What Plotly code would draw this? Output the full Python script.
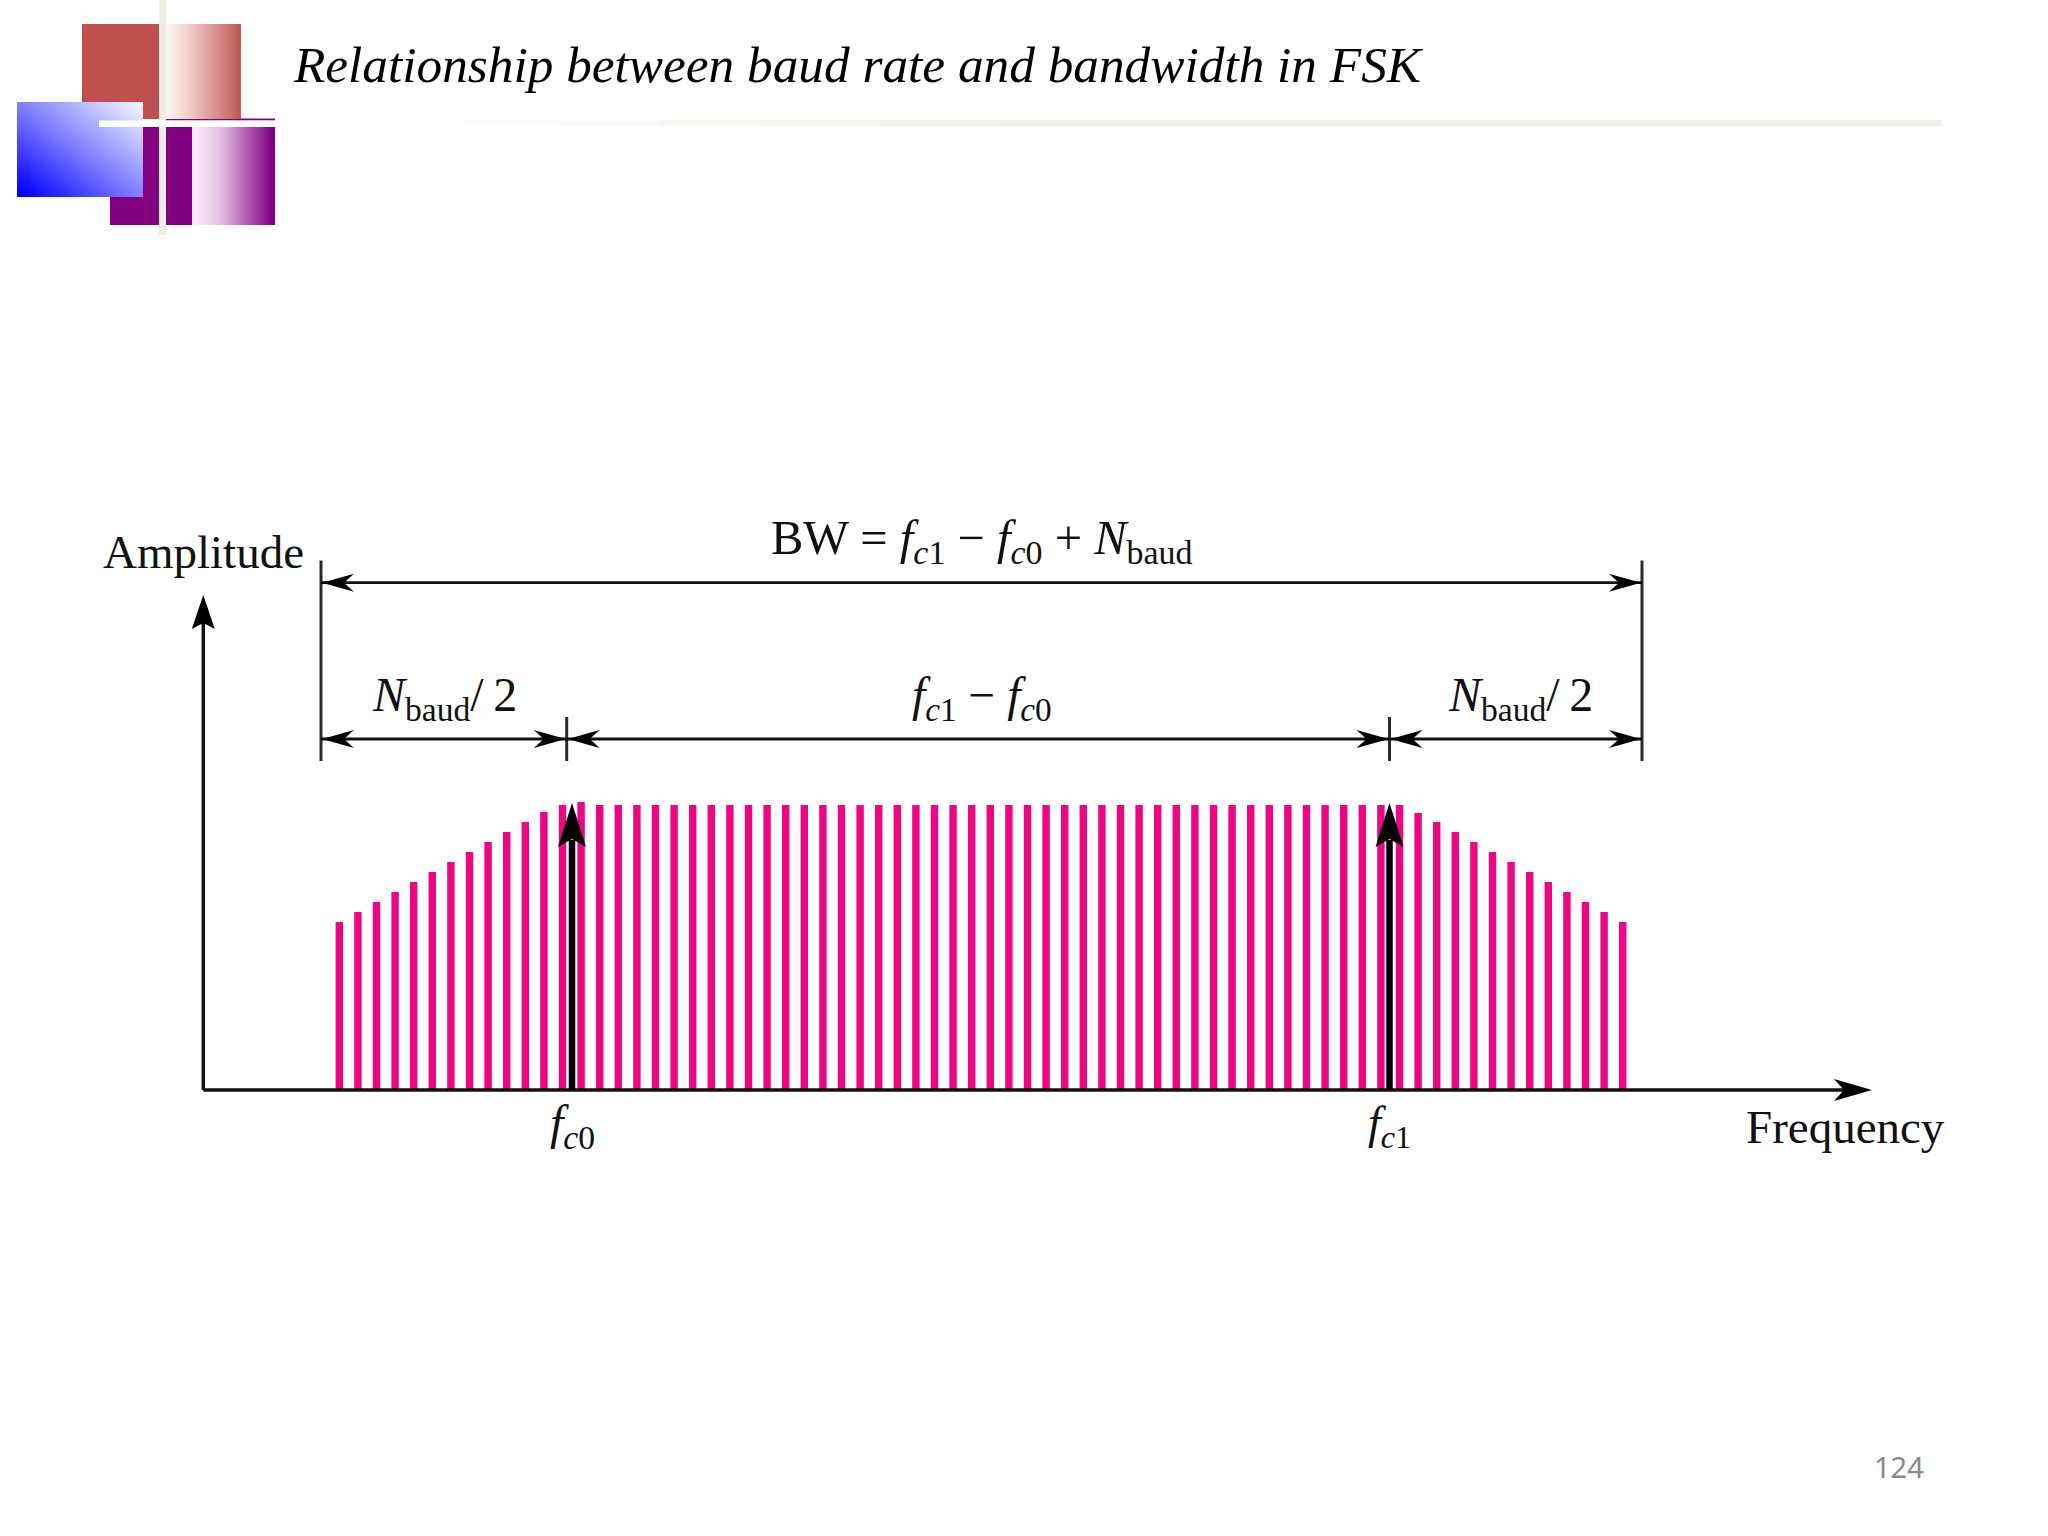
import plotly.graph_objects as go

# ---- data ----
frequency_bins = list(range(70))
amplitude = [168, 178, 188, 198, 208, 218, 228, 238, 248, 258, 268, 278,
             285, 288, 285, 285, 285, 285, 285, 285, 285, 285, 285, 285, 285, 285, 285, 285, 285, 285,
             285, 285, 285, 285, 285, 285, 285, 285, 285, 285, 285, 285, 285, 285, 285, 285, 285, 285,
             285, 285, 285, 285, 285, 285, 285, 285, 285, 285,
             277, 268, 258, 248, 238, 228, 218, 208, 198, 188, 178, 168]
title_text = "Relationship between baud rate and bandwidth in FSK"
y_label = "Amplitude"
x_label = "Frequency"
bw_label = "BW = <i>f</i><sub><i>c</i>1</sub> − <i>f</i><sub><i>c</i>0</sub> + <i>N</i><sub>baud</sub>"
diff_label = "<i>f</i><sub><i>c</i>1</sub> − <i>f</i><sub><i>c</i>0</sub>"
half_label = "<i>N</i><sub>baud</sub>/\u20092"
fc0_label = "<i>f</i><sub><i>c</i>0</sub>"
fc1_label = "<i>f</i><sub><i>c</i>1</sub>"
page_label = "124"

BAR = "#ec0680"
INK = "#111111"
W, H = 2048, 1536
X0, PITCH = 339.3, 18.6
BASE = 1090

fig = go.Figure()
fig.add_trace(go.Bar(x=frequency_bins, y=amplitude, marker=dict(color=BAR, line_width=0),
                     width=0.40, hoverinfo="skip", showlegend=False))

def gradient_rect(x0, y0, x1, y1, colorscale, diagonal=False, n=14):
    xs = [x0 + (k + 0.5) * (x1 - x0) / n for k in range(n)]
    ys = [y0 + (k + 0.5) * (y1 - y0) / n for k in range(n)]
    if diagonal:   # lightest at top right, deepest at bottom left
        z = [[(c + (n - 1 - r)) / (2 * n - 2) for c in range(n)] for r in range(n)]
    else:
        z = [[c / (n - 1) for c in range(n)] for r in range(n)]
    fig.add_trace(go.Heatmap(x=xs, y=ys, z=z, zmin=0, zmax=1, zsmooth="best", colorscale=colorscale,
                             showscale=False, hoverinfo="skip", xaxis="x2", yaxis="y2"))

# logo gradients
gradient_rect(166, 24, 241, 119, [[0, "#fdf3f1"], [0.35, "#eec4c0"], [1, "#c05c56"]])
gradient_rect(192, 127, 275, 225, [[0, "#fdebfd"], [0.35, "#e0b8e0"], [1, "#800080"]])
gradient_rect(17, 102, 143, 197, [[0, "#0000ff"], [0.5, "#8080ff"], [1, "#f2f2ff"]], diagonal=True)

shapes = []
def rect(x0, y0, x1, y1, color, layer="below"):
    shapes.append(dict(type="rect", xref="x2", yref="y2", x0=x0, y0=y0, x1=x1, y1=y1,
                       fillcolor=color, line_width=0, layer=layer))
def line(x0, y0, x1, y1, width, color=INK):
    shapes.append(dict(type="line", xref="x2", yref="y2", x0=x0, y0=y0, x1=x1, y1=y1,
                       line=dict(color=color, width=width), layer="above"))
def head(tx, ty, dx, dy, length, half, notch):
    # dx, dy: unit direction of travel, the tip is at (tx, ty)
    bx, by = tx - dx * length, ty - dy * length
    nx, ny = tx - dx * (length - notch), ty - dy * (length - notch)
    px, py = -dy * half, dx * half
    path = f"M{tx},{ty} L{bx + px},{by + py} L{nx},{ny} L{bx - px},{by - py} Z"
    shapes.append(dict(type="path", xref="x2", yref="y2", path=path, fillcolor="#000000",
                       line_width=0, layer="above"))

# logo solids sit under the gradient traces
rect(82, 24, 159, 119, "#c0504d")
rect(110, 127, 192, 225, "#800080")
rect(166, 118.5, 275, 120.5, "#800080")
rect(159, 0, 166, 235, "#efeee6")

# title rule fading in from the left
rule_colors = ["#fcfcfa", "#fafaf6", "#f8f8f3", "#f5f5ee", "#f2f2ea", "#f0f0e8"]
rule_stops = [465, 560, 660, 760, 880, 1000, 1942]
for c, a, b in zip(rule_colors, rule_stops[:-1], rule_stops[1:]):
    rect(a, 120, b, 126, c, "below")

# axes
line(203.3, BASE, 203.3, 610, 3.5)
head(203.3, 595, 0, -1, 34, 11.5, 6)
line(203.3, BASE, 1850, BASE, 3.5)
head(1872, BASE, 1, 0, 38, 11, 10)

# dimension lines
TOP, ROW = 582.7, 739
L, T0, T1, R = 321, 566.7, 1389.5, 1642
for x, y0, y1 in [(L, 560.5, 761), (R, 560.5, 761), (T0, 717, 761), (T1, 717, 761)]:
    line(x, y0, x, y1, 3, "#2a2a2a")
line(L, TOP, R, TOP, 2.8)
head(L + 1, TOP, -1, 0, 32, 9, 10)
head(R - 1, TOP, 1, 0, 32, 9, 10)
for a, b in [(L, T0), (T0, T1), (T1, R)]:
    line(a, ROW, b, ROW, 2.8)
    head(a + 1, ROW, -1, 0, 32, 9, 10)
    head(b - 1, ROW, 1, 0, 32, 9, 10)

# carrier arrows
for x in (572, 1389.5):
    line(x, BASE, x, 840, 6.5, "#000000")
    head(x, 803, 0, -1, 44, 14, 8)

# white rule crossing the logo, above everything there
rect(99, 120.5, 275, 127, "#ffffff", "above")

layout_annotations = []
def text(x, y, s, size, color="#111111", family="Liberation Serif", anchor="center"):
    layout_annotations.append(dict(xref="x2", yref="y2", x=x, y=y, text=s, showarrow=False,
                                   xanchor=anchor, yanchor="middle", borderpad=0,
                                   font=dict(family=family, size=size, color=color)))

text(292, 64, f"<i>{title_text}</i>", 51.3, "#000000", anchor="left")
text(203, 552, y_label, 47)
text(1845, 1127, x_label, 47)
text(982, 541, bw_label, 48.5)
text(982, 698, diff_label, 47.5)
text(444, 698, half_label, 48)
text(1520, 698, half_label, 48)
text(572, 1126, fc0_label, 48)
text(1389, 1126, fc1_label, 46)
text(1899, 1466, page_label, 29, "#898989", "Noto Sans")

fig.update_layout(
    width=W, height=H, margin=dict(l=0, r=0, t=0, b=0, pad=0, autoexpand=False),
    paper_bgcolor="#ffffff", plot_bgcolor="rgba(0,0,0,0)", showlegend=False,
    bargap=0.6, shapes=shapes, annotations=layout_annotations,
    xaxis=dict(range=[(0 - X0) / PITCH, (W - X0) / PITCH], visible=False, fixedrange=True),
    yaxis=dict(range=[BASE - H, BASE], visible=False, fixedrange=True),
    xaxis2=dict(range=[0, W], overlaying="x", visible=False, fixedrange=True, anchor="y2"),
    yaxis2=dict(range=[H, 0], overlaying="y", visible=False, fixedrange=True, anchor="x2"),
)
fig.write_html("out.html", config=dict(displayModeBar=False, responsive=False),
               post_script="document.body.style.margin='0';document.body.style.overflow='hidden';")
